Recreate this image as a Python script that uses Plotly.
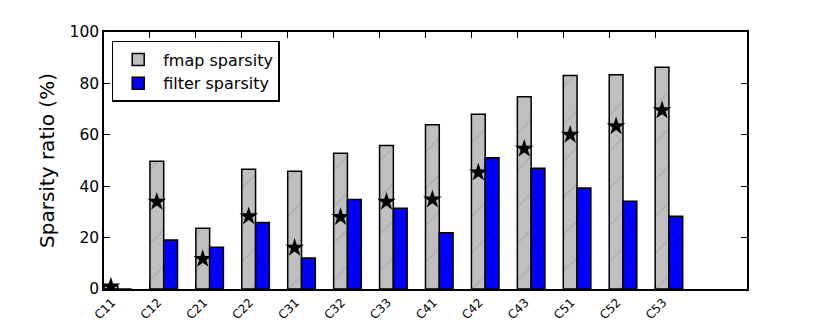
import plotly.graph_objects as go

# capas de la red
capas = ["C11", "C12", "C21", "C22", "C31", "C32", "C33",
         "C41", "C42", "C43", "C51", "C52", "C53"]

# dispersión de fmap (%), dispersión de filtros (%) y estrellas
fmap = [1.2, 49.7, 23.6, 46.6, 45.8, 52.8, 55.8, 63.9, 68.0, 74.8, 83.1, 83.4, 86.3]
filtro = [0.0, 19.1, 16.2, 25.9, 12.1, 34.8, 31.4, 21.9, 51.1, 47.0, 39.3, 34.1, 28.3]
estrella = [1.0, 33.9, 11.7, 28.3, 16.0, 28.0, 33.9, 34.8, 45.3, 54.6, 60.0, 63.3, 69.5]

y_ticks = [0, 20, 40, 60, 80, 100]

idx = list(range(len(capas)))
ancho = 0.3

fig = go.Figure()
fig.add_trace(go.Bar(
    x=idx, y=fmap, width=ancho, offset=0,
    name="fmap sparsity",
    marker=dict(color="#bfbfbf", line=dict(color="black", width=1.5),
                pattern=dict(shape="/", fgcolor="#8c8c8c", size=26, solidity=0.04)),
))
fig.add_trace(go.Bar(
    x=idx, y=filtro, width=ancho, offset=ancho,
    name="filter sparsity",
    marker=dict(color="#0000ff", line=dict(color="black", width=1.5),
                pattern=dict(shape="\\", fgcolor="#00008c", size=26, solidity=0.04)),
))
fig.add_trace(go.Scatter(
    x=[i + ancho / 2 for i in idx], y=estrella, mode="markers",
    marker=dict(symbol="star", size=14, color="black"),
    showlegend=False, hoverinfo="skip",
))

# la página deja 8 px de margen en el body: se compensa aquí
fig.update_layout(
    width=822, height=314,
    barmode="overlay",
    paper_bgcolor="white", plot_bgcolor="white",
    font=dict(family="DejaVu Sans", size=16.7, color="black"),
    margin=dict(l=96, r=83, t=24, b=33),
    legend=dict(x=0.012, y=0.965, xanchor="left", yanchor="top",
                bordercolor="black", borderwidth=1.5, bgcolor="white",
                font=dict(size=16), itemwidth=40, tracegroupgap=0),
)
fig.update_xaxes(
    range=[0, 14], tickvals=idx, ticktext=capas, tickangle=-45,
    ticks="inside", ticklen=6, tickcolor="black",
    showline=True, linecolor="black", linewidth=1.5, mirror="ticks",
    showgrid=False, zeroline=False, automargin=False,
    tickfont=dict(size=12), ticklabelshift=8, ticklabelstandoff=0,
)
fig.update_yaxes(
    range=[0, 100], tickvals=y_ticks, title_text="Sparsity ratio (%)",
    ticks="inside", ticklen=6, tickcolor="black",
    showline=True, linecolor="black", linewidth=1.5, mirror="ticks",
    showgrid=False, zeroline=False, title_standoff=10, automargin=False,
    tickfont=dict(size=15.5),
)

fig.write_html("out.html")
